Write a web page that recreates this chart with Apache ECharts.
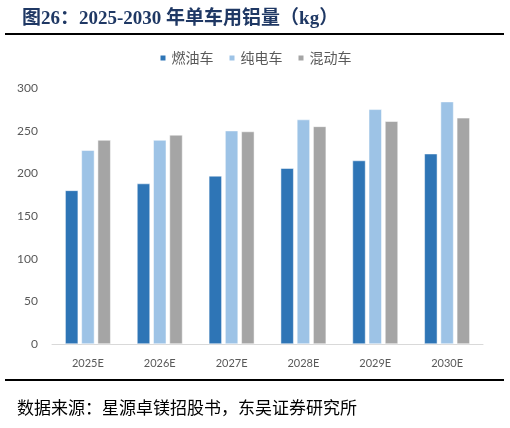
<!DOCTYPE html>
<html><head><meta charset="utf-8">
<script src="https://cdn.jsdelivr.net/npm/echarts@6/dist/echarts.min.js"></script>
<style>html,body{margin:0;padding:0;background:#fff}#c{width:510px;height:428px}</style>
</head><body><div id="c"></div>
<script>
const categories = ['2025E','2026E','2027E','2028E','2029E','2030E'];
const fuelCar = [180, 188, 197, 206, 215, 223];
const bevCar = [227, 239, 250, 263, 275, 284];
const hybridCar = [239, 245, 249, 255, 261, 265];
const seriesNames = ['燃油车','纯电车','混动车'];
const yTicks = {min: 0, max: 300, interval: 50};

const chart = echarts.init(document.getElementById('c'), null, {renderer:'canvas'});
const colors = ['#2E75B6','#9DC3E6','#A5A5A5'];
const data = [fuelCar, bevCar, hybridCar];
chart.setOption({
  animation: false,
  title: {
    text: '图26：2025-2030 年单车用铝量（kg）',
    left: 17, top: 5,
    textStyle: {fontFamily: 'Liberation Serif, "Noto Sans CJK SC"', fontWeight: 'bold', fontSize: 19, color: '#1F3864'}
  },
  legend: {
    top: 46, left: 'center', itemWidth: 7, itemHeight: 7, itemGap: 14,
    icon: 'rect',
    textStyle: {fontSize: 14, color: '#595959', fontFamily: '"Noto Sans CJK SC"'},
    data: seriesNames
  },
  graphic: [
    {type:'line', shape:{x1:5,y1:34,x2:504,y2:34}, style:{stroke:'#000',lineWidth:2}},
    {type:'line', shape:{x1:5,y1:380,x2:504,y2:380}, style:{stroke:'#000',lineWidth:2}},
    {type:'text', left: 17, top: 399, style:{text:'数据来源：星源卓镁招股书，东吴证券研究所', fontSize: 17, fill:'#000', fontFamily:'"Noto Sans CJK SC"'}}
  ],
  grid: {left: 52, right: 27, top: 88, bottom: 84},
  xAxis: {
    type: 'category', data: categories,
    axisLine: {lineStyle: {color: '#D9D9D9'}},
    axisTick: {show: false},
    axisLabel: {color: '#595959', fontSize: 11, margin: 14, fontFamily: 'Lato, "Open Sans"'}
  },
  yAxis: {
    type: 'value', min: yTicks.min, max: yTicks.max, interval: yTicks.interval,
    axisLine: {show: false}, axisTick: {show: false}, splitLine: {show: false},
    axisLabel: {color: '#595959', fontSize: 12, margin: 14, fontFamily: 'Lato, "Open Sans"'}
  },
  series: seriesNames.map((n, i) => ({
    name: n, type: 'bar', data: data[i], barWidth: 13, barGap: '25%',
    itemStyle: {color: colors[i], borderColor: '#fff', borderWidth: 0.5}
  }))
});
</script></body></html>
